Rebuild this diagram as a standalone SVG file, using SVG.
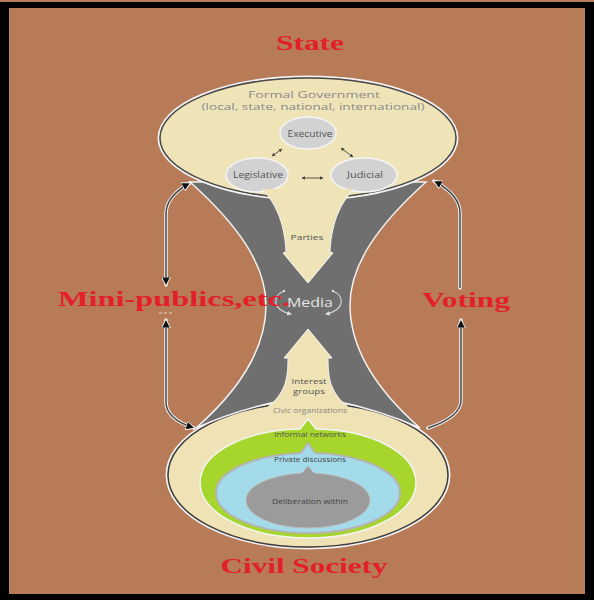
<svg xmlns="http://www.w3.org/2000/svg" width="594" height="600" viewBox="0 0 594 600">
<defs>
<style>
.red{font-family:"Liberation Serif","Times New Roman",serif;font-weight:bold;font-size:20px;fill:#e3202a;text-anchor:middle}
.lbl{font-family:"Open Sans","Noto Sans",sans-serif;text-anchor:middle}
.branch{fill:#d2d2d2;stroke:#f4f4f4;stroke-width:1.5}
.halo{fill:none;stroke:#f2f2f2;stroke-width:3.5;stroke-linecap:round}
.core{fill:none;stroke:#4a4a4a;stroke-width:1.5}
.small{fill:none;stroke:#444;stroke-width:0.9}
</style>
<marker id="ah" viewBox="0 0 10 10" refX="9" refY="5" markerWidth="6" markerHeight="6" orient="auto-start-reverse">
<path d="M0,0 L10,5 L0,10 Z" fill="#111" stroke="#fff" stroke-width="1"/>
</marker>
<marker id="sa" viewBox="0 0 10 10" refX="9" refY="5" markerWidth="4" markerHeight="4" orient="auto-start-reverse">
<path d="M0,0 L10,5 L0,10 Z" fill="#444"/>
</marker>
<marker id="wa" viewBox="0 0 10 10" refX="8" refY="5" markerWidth="4" markerHeight="4" orient="auto">
<path d="M0,0 L10,5 L0,10 Z" fill="#e0e0e0"/>
</marker>
</defs>

<rect x="0" y="0" width="594" height="600" fill="#b77b58"/>
<rect x="0" y="2" width="594" height="598" fill="#000"/>
<rect x="9" y="8" width="576" height="586" fill="#b77b58"/>

<g id="civil-society-outer">
<ellipse cx="308" cy="475" rx="141.5" ry="73.5" fill="none" stroke="#f2f2f2" stroke-width="2"/>
<ellipse cx="308" cy="475" rx="140" ry="72" fill="#efe2b4" stroke="#3f3f3f" stroke-width="1.5"/>
</g>

<g id="media">
<path d="M190,182 C238,225 266,265 266,305 C266,345 245,385 196,428 C225,415 260,405 285,400 L331,400 C356,405 391,415 420,428 C371,385 350,345 350,305 C350,265 378,225 426,182 Z" fill="#6f6f6f" stroke="#f2f2f2" stroke-width="1.5"/>
<text class="lbl" x="310" y="307" font-size="12" fill="#e4e4e4" textLength="46" lengthAdjust="spacingAndGlyphs">Media</text>
<path d="M284,291 C272,296 272,310 291,314" fill="none" stroke="#d8d8d8" stroke-width="1.2" marker-end="url(#wa)"/>
<path d="M333,291 C345,296 345,310 326,314" fill="none" stroke="#d8d8d8" stroke-width="1.2" marker-end="url(#wa)"/>
<circle cx="284" cy="291" r="1.2" fill="#e0e0e0"/>
<circle cx="333" cy="291" r="1.2" fill="#e0e0e0"/>
</g>

<g id="state">
<ellipse cx="308" cy="138" rx="149.5" ry="61.5" fill="none" stroke="#f2f2f2" stroke-width="2"/>
<ellipse cx="308" cy="138" rx="148" ry="60" fill="#efe4b8" stroke="#4a4a4a" stroke-width="1.5"/>
<text class="lbl" x="314" y="98" font-size="9" fill="#8a8a8a" textLength="132" lengthAdjust="spacingAndGlyphs">Formal Government</text>
<text class="lbl" x="313" y="109.5" font-size="9" fill="#8a8a8a" textLength="223" lengthAdjust="spacingAndGlyphs">(local, state, national, international)</text>
</g>

<g id="executive">
<ellipse class="branch" cx="308" cy="133" rx="28" ry="16"/>
<text class="lbl" x="310" y="137" font-size="8.5" fill="#555" textLength="45" lengthAdjust="spacingAndGlyphs">Executive</text>
</g>
<g id="legislative">
<ellipse class="branch" cx="257" cy="175" rx="31" ry="17"/>
<text class="lbl" x="258" y="178" font-size="8.5" fill="#555" textLength="50" lengthAdjust="spacingAndGlyphs">Legislative</text>
</g>
<g id="judicial">
<ellipse class="branch" cx="364" cy="175" rx="33" ry="17"/>
<text class="lbl" x="365" y="178" font-size="8.5" fill="#555" textLength="36" lengthAdjust="spacingAndGlyphs">Judicial</text>
</g>

<g id="parties">
<path d="M262,189 C278,205 285,228 286,252 L283,253 L308,283 L333,253 L330,252 C331,228 338,205 354,189 Z" fill="#efe4b8"/>
<path d="M262,189 C278,205 285,228 286,252 L283,253 L308,283 L333,253 L330,252 C331,228 338,205 354,189" fill="none" stroke="#f4f4f4" stroke-width="1"/>
<text class="lbl" x="307" y="240" font-size="8" fill="#555" textLength="33" lengthAdjust="spacingAndGlyphs">Parties</text>
</g>

<g id="interest-groups">
<path d="M308,329 L332,358 L328,358 C328,380 331,393 348,407 L348,418 L268,418 L268,407 C285,393 288,380 288,358 L284,358 Z" fill="#efe2b4"/>
<path d="M348,407 C331,393 328,380 328,358 L332,358 L308,329 L284,358 L288,358 C288,380 285,393 268,407" fill="none" stroke="#f4f4f4" stroke-width="1"/>
<text class="lbl" x="309" y="384" font-size="7.5" fill="#555" textLength="35" lengthAdjust="spacingAndGlyphs">Interest</text>
<text class="lbl" x="309" y="394" font-size="7.5" fill="#555" textLength="32" lengthAdjust="spacingAndGlyphs">groups</text>
</g>

<g id="civic-organizations">
<text class="lbl" x="310" y="413" font-size="7.5" fill="#8a8a8a" textLength="74" lengthAdjust="spacingAndGlyphs">Civic organizations</text>
</g>
<g id="informal-networks">
<path d="M308,419 L316,429 C370,430 416,452 416,483 C416,513 368,538 308,538 C248,538 200,513 200,483 C200,452 246,430 300,429 Z" fill="#a6d62b" stroke="#f4f4f4" stroke-width="1.5"/>
<text class="lbl" x="310" y="437" font-size="7.5" fill="#555" textLength="72" lengthAdjust="spacingAndGlyphs">Informal networks</text>
</g>
<g id="private-discussions">
<path d="M308,443 L315,453 C362,455 400,471 400,493 C400,515 359,533 308,533 C257,533 216,515 216,493 C216,471 254,455 301,453 Z" fill="#a3dbea" stroke="#b4b4b4" stroke-width="2"/>
<text class="lbl" x="310" y="462" font-size="7.5" fill="#444" textLength="72" lengthAdjust="spacingAndGlyphs">Private discussions</text>
</g>
<g id="deliberation-within">
<path d="M308,466 L314,473 C346,475 370,486 370,500 C370,516 342,528 308,528 C274,528 246,516 246,500 C246,486 270,475 302,473 Z" fill="#9b9b9b" stroke="#bdbdbd" stroke-width="1"/>
<text class="lbl" x="310" y="504" font-size="7.5" fill="#444" textLength="76" lengthAdjust="spacingAndGlyphs">Deliberation within</text>
</g>

<g id="connectors">
<path class="small" d="M282,149 L272,156" marker-start="url(#sa)" marker-end="url(#sa)"/>
<path class="small" d="M341,148 L353,157" marker-start="url(#sa)" marker-end="url(#sa)"/>
<path class="small" d="M302,178 L323,178" marker-start="url(#sa)" marker-end="url(#sa)"/>
<path class="halo" d="M166,285 L166,214 Q166,196 190,183"/>
<path class="core" d="M166,285 L166,214 Q166,196 190,183" marker-start="url(#ah)" marker-end="url(#ah)"/>
<path class="halo" d="M166,320 L166,402 Q166,419 194,428"/>
<path class="core" d="M166,320 L166,402 Q166,419 194,428" marker-start="url(#ah)" marker-end="url(#ah)"/>
<path class="halo" d="M460,288 L460,213 Q460,195 434,181"/>
<path class="core" d="M460,288 L460,213 Q460,195 434,181" marker-end="url(#ah)"/>
<path class="halo" d="M428,428 Q461,417 461,400 L461,320"/>
<path class="core" d="M428,428 Q461,417 461,400 L461,320" marker-end="url(#ah)"/>
<path d="M159,313 L172,313" stroke="#f3d6c4" stroke-width="1" stroke-dasharray="3,2"/>
</g>

<g id="labels">
<text class="red" x="310" y="50" textLength="68" lengthAdjust="spacingAndGlyphs">State</text>
<text class="red" x="174" y="306" textLength="232" lengthAdjust="spacingAndGlyphs">Mini-publics,etc.</text>
<text class="red" x="466" y="307" textLength="88" lengthAdjust="spacingAndGlyphs">Voting</text>
<text class="red" x="304" y="573" textLength="167" lengthAdjust="spacingAndGlyphs">Civil Society</text>
</g>
</svg>
